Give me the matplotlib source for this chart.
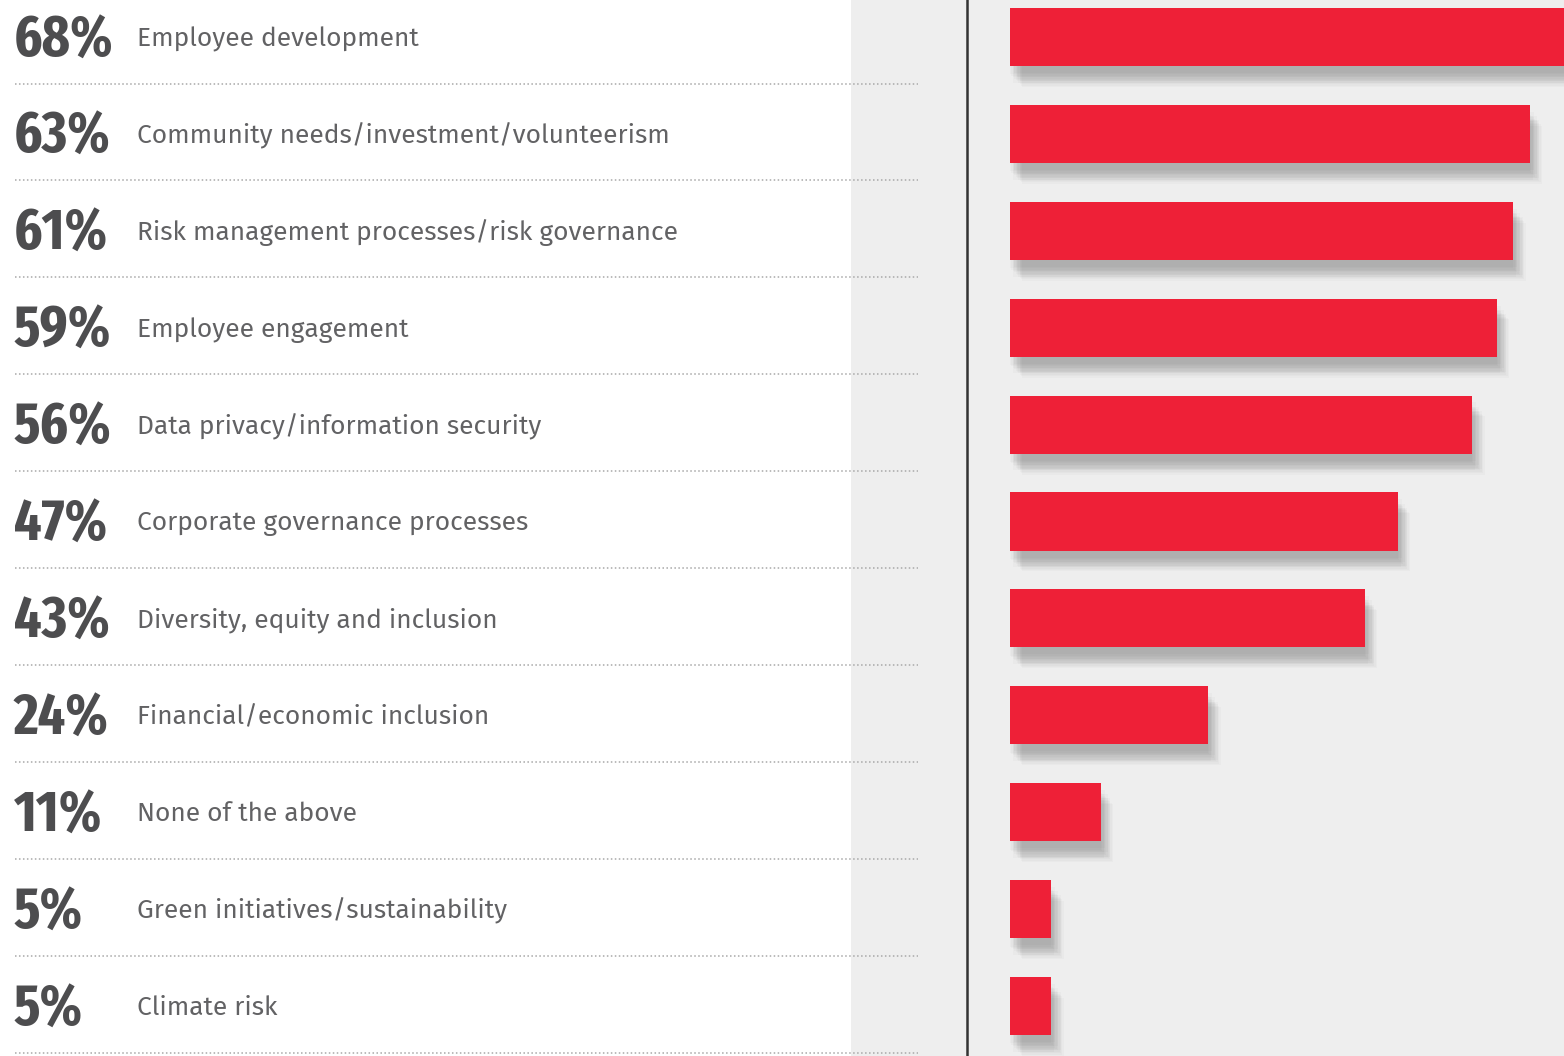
import matplotlib.pyplot as plt
import matplotlib.patheffects as pe
from matplotlib.patches import Rectangle

categories = ["Employee development", "Community needs/investment/volunteerism",
              "Risk management processes/risk governance", "Employee engagement",
              "Data privacy/information security", "Corporate governance processes",
              "Diversity, equity and inclusion", "Financial/economic inclusion",
              "None of the above", "Green initiatives/sustainability", "Climate risk"]
values = [68, 63, 61, 59, 56, 47, 43, 24, 11, 5, 5]
pct_labels = ["68%", "63%", "61%", "59%", "56%", "47%", "43%", "24%", "11%", "5%", "5%"]

W, H = 1564, 1056
fig = plt.figure(figsize=(W / 100, H / 100), dpi=100)
fig.patch.set_facecolor("white")

# grey panel + vertical rule
fig.patches.append(Rectangle((851 / W, 0), 1 - 851 / W, 1, transform=fig.transFigure,
                             facecolor="#eeeeee", edgecolor="none", zorder=-2))
fig.lines.append(plt.Line2D([967 / W, 967 / W], [0, 1], transform=fig.transFigure,
                            color="#333333", lw=1.8, zorder=-1))

n = len(categories)
pitch = 96.9
top = -37 / pitch
bottom = (H - 37) / pitch

pct_font = ["Fira Sans Extra Condensed", "Fira Sans Condensed", "DejaVu Sans"]
lab_font = ["Fira Sans", "DejaVu Sans"]

# text / separator axes across whole figure
tx = fig.add_axes([0, 0, 1, 1])
tx.set_xlim(0, W)
tx.set_ylim(bottom, top)
tx.axis("off")
tx.patch.set_alpha(0)
for i, (p, c) in enumerate(zip(pct_labels, categories)):
    tx.text(14, i + 0.04, p, fontsize=42, fontweight="bold", family=pct_font,
            color="#4d4d4f", va="center", ha="left")
    tx.text(137, i + 0.02, c, fontsize=19, family=lab_font, fontweight="normal",
            color="#626264", va="center", ha="left")
    tx.plot([15, 918], [i + 0.48, i + 0.48], color="#a8a8a8", lw=1.1,
            linestyle=(0, (1, 1.6)), clip_on=False)

# bars with soft drop shadow
ax = fig.add_axes([1010 / W, 0, 1 - 1010 / W, 1])
ax.patch.set_alpha(0)
ax.set_xlim(0, 554 / 8.25)
ax.set_ylim(bottom, top)
ax.axis("off")
shadow = [pe.SimplePatchShadow(offset=(dx, -dy), shadow_rgbFace="black", alpha=0.02)
          for dx, dy in [(9, 15), (8, 14), (7, 13), (6, 12), (5, 11), (4, 10), (3, 9),
                         (2, 8), (1, 7), (0, 6), (3, 5), (5, 8), (7, 11), (2, 12)]]
ax.barh(range(n), values, height=0.6, color="#ee2037", edgecolor="none",
        path_effects=shadow + [pe.Normal()])

fig.savefig("out.png", dpi=100)
